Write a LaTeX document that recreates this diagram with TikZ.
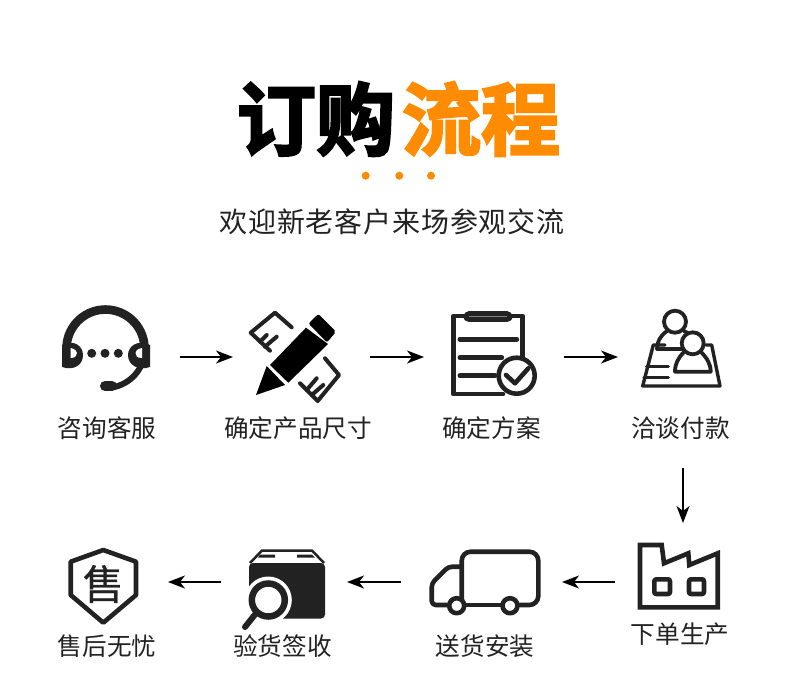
\documentclass[tikz,border=0pt]{standalone}
\usepackage{fontspec}
\usetikzlibrary{arrows.meta}
\setmainfont{Noto Sans CJK SC}
\newfontfamily\titlefont[FakeBold=3.2]{Noto Sans CJK SC Bold}
\newfontfamily\shoufont[FakeBold=0.6]{Noto Sans CJK SC}
\definecolor{titleorange}{HTML}{FF8C00}
\definecolor{inkgray}{HTML}{222222}
\tikzset{
iconbox/.style={minimum size=90pt,inner sep=0pt,outer sep=0pt},
caption/.style={text=inkgray,font=\fontsize{24.6}{24.6}\selectfont,inner sep=0pt},
flow/.style={-{Stealth[length=17pt,width=13pt,inset=5pt]},line width=1.7pt,black},
ink/.style={line width=4.6pt,draw=inkgray,line join=round,line cap=round}
}
\begin{document}
\begin{tikzpicture}[x=1pt,y=1pt,yscale=-1]
\useasboundingbox (0,0) rectangle (790,697);
\fill[white] (0,0) rectangle (790,697);
% title
\node[inner sep=0pt,text=black,font=\titlefont\fontsize{79}{79}\selectfont] (titlea) at (316,119) {订购};
\node[inner sep=0pt,text=titleorange,font=\titlefont\fontsize{79}{79}\selectfont] (titleb) at (481,119) {流程};
\foreach \x in {365.7,399.3,431} \fill[titleorange] (\x,175.7) circle (4);
\node[inner sep=0pt,text=inkgray,font=\addfontfeature{LetterSpace=3}\fontsize{28}{28}\selectfont] (welcome) at (392,222) {欢迎新老客户来场参观交流};
% steps
\node[iconbox] (kefu) at (105,357) {};
\node[iconbox] (chicun) at (295,357) {};
\node[iconbox] (fangan) at (495,357) {};
\node[iconbox] (fukuan) at (683,357) {};
\node[iconbox] (shengchan) at (683,582) {};
\node[iconbox] (songhuo) at (485,582) {};
\node[iconbox] (yanhuo) at (287,582) {};
\node[iconbox] (shouhou) at (103,582) {};
\node[caption] (kefutext) at (107,428) {咨询客服};
\node[caption] (chicuntext) at (298,428) {确定产品尺寸};
\node[caption] (fangantext) at (491.5,428) {确定方案};
\node[caption] (fukuantext) at (680.5,428) {洽谈付款};
\node[caption] (shengchantext) at (680,634) {下单生产};
\node[caption] (songhuotext) at (485,646) {送货安装};
\node[caption] (yanhuotext) at (282.5,646) {验货签收};
\node[caption] (shouhoutext) at (107,646) {售后无忧};
% arrows
\draw[flow,shorten <=30pt,shorten >=17pt] (kefu) -- (chicun);
\draw[flow,shorten <=30pt,shorten >=26pt] (chicun) -- (fangan);
\draw[flow,shorten <=24pt,shorten >=20pt] (fangan) -- (fukuan);
\draw[flow,shorten <=66pt,shorten >=14pt] (fukuan) -- (shengchan);
\draw[flow,shorten <=23pt,shorten >=32pt] (shengchan) -- (songhuo);
\draw[flow,shorten <=39pt,shorten >=15pt] (songhuo) -- (yanhuo);
\draw[flow,shorten <=21pt,shorten >=20pt] (yanhuo) -- (shouhou);
% headset
\draw[inkgray,line width=8.6pt] (105.5,348.5) ++(172:39) arc[start angle=172,end angle=368,radius=39];
\draw[inkgray,line width=6pt] (105.5,348.5) ++(8:39.5) arc[start angle=8,end angle=85,radius=39.5];
\draw[inkgray,line width=10pt,line cap=round] (105,386) -- (112,386);
\fill[inkgray] (62,345) .. controls (74,339) and (83,346) .. (83,355) .. controls (83,365) and (74,371) .. (62,367) -- cycle;
\fill[white] (70.5,348) .. controls (75,349) and (77,351) .. (77,353) .. controls (77,356) and (75,358) .. (70.5,358) -- cycle;
\fill[inkgray] (150,345) .. controls (138,339) and (128,346) .. (128,355) .. controls (128,365) and (138,371) .. (150,367) -- cycle;
\fill[white] (142,348) .. controls (137,349) and (135.5,351) .. (135.5,353) .. controls (135.5,356) and (137,358) .. (142,358) -- cycle;
\foreach \x in {91.7,105,118.3} \fill[inkgray] (\x,353.3) circle (4.5);
% pencil and ruler
\draw[ink,line width=4pt] (291.7,327.3) -- (275,312.7) -- (250.7,332.7) -- (270,350.7);
\draw[ink,line width=4pt] (260,341.7) -- (266.7,335) (265,346.7) -- (276.7,336.7);
\draw[ink,line width=4pt] (325,358.3) -- (339,375) -- (317.7,401) -- (300,383.3);
\draw[ink,line width=4pt] (306.7,390) -- (316.7,378.3) (311.7,395) -- (323.3,385);
\fill[black] (256,395) -- (266.7,366) -- (285,385) -- cycle;
\fill[black] (270,365) -- (288.3,382.7) -- (328,344) -- (306,327.7) -- cycle;
\fill[black,rounded corners=2pt] (308.5,323.5) -- (318.3,314) -- (336,331.7) -- (327,342.5) -- cycle;
% clipboard
\draw[ink] (503,394) -- (453.3,394) -- (453.3,316) -- (522.7,316) -- (522.7,358);
\draw[inkgray,line width=11pt,line cap=round] (469,316.7) -- (507,316.7);
\draw[gray,line width=1pt] (469,316.7) -- (507,316.7);
\draw[ink,line width=5pt] (460,339.3) -- (516.7,339.3) (460,357.7) -- (501.7,357.7) (460,375.7) -- (495,375.7);
\draw[ink,fill=white] (516.7,375.7) circle (18);
\draw[ink] (506,375) -- (515,383.3) -- (528.3,368.3);
% people
\draw[ink,line width=3.4pt] (665,345) -- (653.3,345) -- (642.7,386) -- (720,386) -- (711.7,345) -- (706,345);
\draw[ink,line width=3.4pt] (646.7,366.7) -- (668.3,366.7) (644,377.7) -- (668.3,377.7);
\draw[ink,line width=3.8pt] (675,321.7) circle (11);
\draw[ink,line width=3.8pt] (667,331) .. controls (660,336) and (657,342) .. (657,349) -- (682,349);
\draw[ink,line width=3.8pt] (684,331) -- (690,334);
\draw[ink,line width=3.8pt,fill=white] (692.7,343.3) circle (11);
\draw[ink,line width=3.8pt] (684,352) .. controls (678,358) and (675,364) .. (675,371.7) -- (710.7,371.7) .. controls (710.7,364) and (707,358) .. (701,352);
% factory
\draw[ink,line cap=butt,line join=miter] (640,545) -- (661.7,545) -- (664,563.3) -- (688.3,553.3) -- (689.3,565) -- (717.7,553.3) -- (717.7,607.3) -- (640,607.3) -- cycle;
\draw[ink,rounded corners=2pt] (654.3,579.3) rectangle (670,594);
\draw[ink,rounded corners=2pt] (689,579.3) rectangle (704,594);
% truck
\draw[ink,rounded corners=9pt] (461.7,600) -- (461.7,551.7) -- (538.3,551.7) -- (538.3,605) -- (520,605);
\draw[ink] (461.7,605) -- (500,605);
\draw[ink,rounded corners=4pt] (461.7,566.7) -- (448.3,566.7) -- (431.7,583.3) -- (431.7,605) -- (447,605);
\draw[ink,fill=white] (456.7,605.7) circle (7.5);
\draw[ink,fill=white] (510,605.7) circle (7.5);
% box
\fill[inkgray,rounded corners=4pt] (249,563) -- (325,563) -- (325,618.5) -- (249,618.5) -- cycle;
\draw[inkgray,line width=2.5pt,line join=round] (250,563) -- (262,550.5) -- (312,550.5) -- (324,563);
\fill[inkgray] (260,554.5) -- (275,554.5) -- (275,557.5) -- (258,557.5) -- cycle;
\fill[inkgray] (297,554.5) -- (312,554.5) -- (315,557.5) -- (297,557.5) -- cycle;
\fill[white] (240,590) -- (262,582) -- (283,618.8) -- (240,620) -- cycle;
\fill[white] (268.3,600) circle (23.5);
\draw[inkgray,line width=6.5pt,fill=white] (268.3,600) circle (16.5);
\draw[inkgray,line width=6pt,line cap=round] (257,612) -- (245,627);
% shield
\draw[ink] (103.3,550) -- (136,561.7) -- (136,595) -- (103.3,622.7) -- (70.7,595) -- (70.7,561.7) -- cycle;
\node[inner sep=0pt,text=inkgray,font=\shoufont\fontsize{41}{41}\selectfont] (shou) at (103.3,584) {售};
\end{tikzpicture}
\end{document}
